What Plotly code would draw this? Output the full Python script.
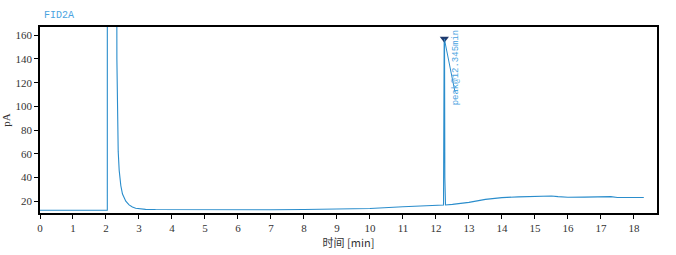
import plotly.graph_objects as go

time_min = [0.0, 0.5, 1.0, 1.5, 2.0, 2.04, 2.041, 2.32, 2.33, 2.35, 2.37, 2.4, 2.45, 2.5, 2.6, 2.7, 2.8, 2.9, 3.0,
            3.2, 3.5, 4.0, 5.0, 6.0, 7.0, 8.0, 9.0, 10.0, 11.0, 11.5, 12.0, 12.23, 12.25, 12.26, 12.27, 12.29,
            12.5, 13.0, 13.5, 14.0, 14.5, 15.0, 15.5, 15.7, 16.0, 16.5, 17.0, 17.3, 17.5, 18.0, 18.3]
signal_pA = [12.3, 12.3, 12.3, 12.3, 12.3, 12.3, 400, 400, 140, 95, 62, 46, 33, 26, 20, 16.8, 15.0, 14.0, 13.5,
             13.1, 12.9, 12.8, 12.7, 12.7, 12.8, 12.9, 13.1, 13.8, 15.3, 16.0, 16.6, 16.8, 157, 157, 40, 16.8,
             17.3, 19.0, 21.5, 23.0, 23.6, 23.8, 24.4, 23.8, 23.3, 23.4, 23.5, 23.8, 23.1, 23.1, 23.1]

peak_time = [12.255]
peak_value = [157]
peak_label = "peak@12.345min"

line_color = "#2a8dcc"
text_color = "#4aa3df"

fig = go.Figure()
fig.add_trace(go.Scatter(x=time_min, y=signal_pA, mode="lines",
                         line=dict(color=line_color, width=1.1), showlegend=False))
fig.add_trace(go.Scatter(x=peak_time, y=peak_value, mode="markers",
                         marker=dict(symbol="triangle-down", size=8, color="#1f3a6e"),
                         showlegend=False))

fig.add_annotation(x=peak_time[0], y=peak_value[0], text="", showarrow=True, arrowhead=0,
                   arrowwidth=1, arrowcolor=line_color, ax=11, ay=55)
fig.add_annotation(x=peak_time[0], y=167, yanchor="top", xanchor="left",
                   xshift=5, yshift=0, text=peak_label, textangle=-90, showarrow=False,
                   font=dict(family="Liberation Mono", size=9, color=text_color))

fig.add_annotation(xref="paper", yref="paper", x=0.0, y=1.0, xanchor="left", yanchor="bottom",
                   xshift=2, yshift=4, text="FID2A", showarrow=False,
                   font=dict(family="Liberation Mono", size=10, color=text_color))

axis_font = dict(family="Liberation Serif", size=11, color="#333")
fig.update_layout(
    width=676, height=255,
    margin=dict(l=40, r=19, t=27, b=42),
    plot_bgcolor="white", paper_bgcolor="white",
    xaxis=dict(range=[0, 18.7], tickmode="linear", tick0=0, dtick=1, automargin=False,
               showgrid=False, zeroline=False, showline=True, linecolor="black", linewidth=1.5,
               mirror=True, ticks="outside", ticklen=4, tickcolor="black",
               tickfont=axis_font,
               title=dict(text="时间 [min]", font=dict(family="Noto Sans CJK SC", size=11, color="#333"),
                          standoff=2)),
    yaxis=dict(range=[10, 167], tickmode="linear", tick0=20, dtick=20, automargin=False,
               showgrid=False, zeroline=False, showline=True, linecolor="black", linewidth=1.5,
               mirror=True, ticks="outside", ticklen=4, tickcolor="black",
               tickfont=axis_font,
               title=dict(text="pA", font=dict(family="Liberation Serif", size=11, color="#333"),
                          standoff=4)),
)

fig.write_html("out.html")
